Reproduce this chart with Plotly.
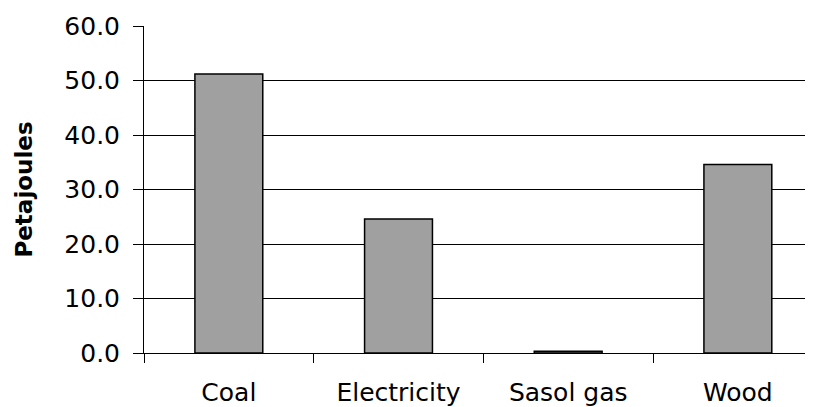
import plotly.graph_objects as go

categories = ["Coal", "Electricity", "Sasol gas", "Wood"]
values = [51.2, 24.6, 0.3, 34.6]
y_ticks = [0, 10, 20, 30, 40, 50, 60]
y_tick_labels = ["0.0", "10.0", "20.0", "30.0", "40.0", "50.0", "60.0"]

fig = go.Figure(go.Bar(
    x=categories, y=values, width=0.4,
    marker=dict(color="#a0a0a0", line=dict(color="black", width=1.5)),
))

fig.update_layout(
    width=813, height=399,
    margin=dict(l=136, r=0, t=18, b=54),
    paper_bgcolor="white", plot_bgcolor="white",
    font=dict(family="DejaVu Sans", size=25, color="black"),
    showlegend=False,
)
fig.update_xaxes(
    range=[-0.5, 3.49], tickson="boundaries", ticks="outside", ticklen=9,
    tickcolor="black", tickwidth=1, showline=True, linecolor="black", linewidth=1,
    showgrid=False, ticklabelstandoff=17, tickfont=dict(size=25),
)
fig.update_yaxes(
    range=[0, 60], tickvals=y_ticks, ticktext=y_tick_labels,
    ticks="outside", ticklen=10, tickcolor="black", tickwidth=1,
    showline=True, linecolor="black", linewidth=1,
    showgrid=True, gridcolor="black", gridwidth=1, zeroline=False,
    ticklabelstandoff=8, tickfont=dict(size=25),
    title=dict(text="<b>Petajoules</b>", font=dict(size=23), standoff=25),
)

fig.write_html("out.html")
